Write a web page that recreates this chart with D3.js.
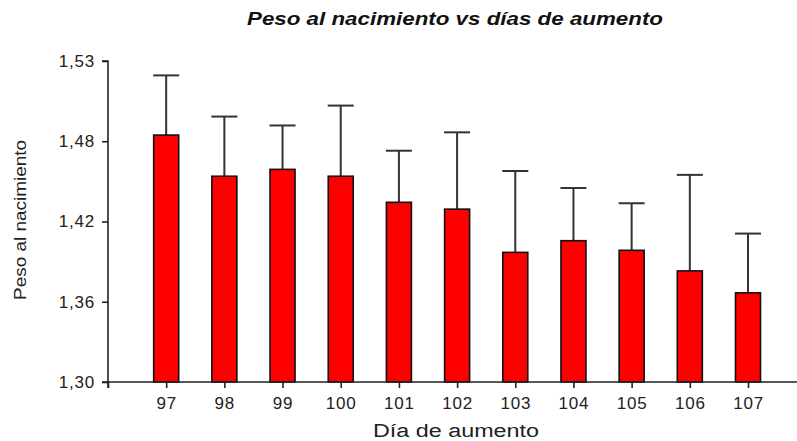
<!DOCTYPE html>
<html lang="es">
<head>
  <meta charset="UTF-8" />
  <title>Peso al nacimiento vs días de aumento</title>
  <script src="https://d3js.org/d3.v7.min.js"></script>
  <style>
    html, body {
      margin: 0;
      padding: 0;
      background: #fff;
      overflow: hidden;
    }
    svg text {
      font-family: "Liberation Sans", Arial, sans-serif;
      fill: #222;
    }
  </style>
</head>
<body>
  <div id="chart"></div>

  <script>
    // days on the x axis
    const days = [97, 98, 99, 100, 101, 102, 103, 104, 105, 106, 107];

    // mean birth weight per day
    const means = [1.480, 1.450, 1.455, 1.450, 1.431, 1.426, 1.3945, 1.403, 1.396, 1.381, 1.365];

    // upper error (standard error)
    const errors = [0.0435, 0.0435, 0.032, 0.0515, 0.0376, 0.056, 0.0593, 0.0384, 0.0343, 0.070, 0.0432];

    // y axis range (ticks are evenly spaced, labels rounded)
    const yMin = 1.30;
    const yMax = 1.534;

    const width = 797;
    const height = 441;

    const svg = d3.select("#chart")
      .append("svg")
      .attr("width", width)
      .attr("height", height);

    const x = d3.scaleLinear()
      .domain([96, 107])
      .range([108, 748]);

    const y = d3.scaleLinear()
      .domain([yMin, yMax])
      .range([382, 61]);

    const barWidth = 25;
    const capWidth = 26;

    // title
    svg.append("text")
      .attr("x", 455)
      .attr("y", 25)
      .attr("text-anchor", "middle")
      .attr("font-size", 18)
      .attr("font-weight", "bold")
      .attr("font-style", "italic")
      .attr("textLength", 416)
      .attr("lengthAdjust", "spacingAndGlyphs")
      .style("fill", "#111")
      .text("Peso al nacimiento vs días de aumento");

    // error bars (drawn first so bars cover the lower part)
    const err = svg.append("g")
      .attr("stroke", "#333")
      .attr("stroke-width", 2);

    err.selectAll("line.stem")
      .data(days)
      .enter()
      .append("line")
      .attr("class", "stem")
      .attr("x1", d => x(d))
      .attr("x2", d => x(d))
      .attr("y1", (d, i) => y(means[i]))
      .attr("y2", (d, i) => y(means[i] + errors[i]));

    err.selectAll("line.cap")
      .data(days)
      .enter()
      .append("line")
      .attr("class", "cap")
      .attr("x1", d => x(d) - capWidth / 2)
      .attr("x2", d => x(d) + capWidth / 2)
      .attr("y1", (d, i) => y(means[i] + errors[i]))
      .attr("y2", (d, i) => y(means[i] + errors[i]));

    // bars
    svg.append("g")
      .selectAll("rect")
      .data(days)
      .enter()
      .append("rect")
      .attr("x", d => x(d) - barWidth / 2)
      .attr("width", barWidth)
      .attr("y", (d, i) => y(means[i]))
      .attr("height", (d, i) => y(yMin) - y(means[i]))
      .attr("fill", "#ff0000")
      .attr("stroke", "#111")
      .attr("stroke-width", 1.6);

    // y axis
    const yTicks = d3.range(5).map(i => yMin + i * (yMax - yMin) / 4);
    const yAxis = svg.append("g")
      .attr("transform", "translate(108,0)")
      .call(d3.axisLeft(y)
        .tickValues(yTicks)
        .tickSize(6)
        .tickPadding(7)
        .tickFormat(d => d.toFixed(2).replace(".", ",")));

    // x axis
    const xAxis = svg.append("g")
      .attr("transform", "translate(0,382)")
      .call(d3.axisBottom(x)
        .tickValues([96].concat(days))
        .tickSize(6)
        .tickPadding(9)
        .tickFormat(d => d === 96 ? "" : d));

    xAxis.select(".domain").attr("d", "M108,6V0H797");
    yAxis.select(".domain").attr("d", "M-6,61H0V382H-6");

    svg.selectAll(".domain, .tick line")
      .attr("stroke", "#222")
      .attr("stroke-width", 1.6);

    svg.selectAll(".tick text")
      .attr("font-size", 17)
      .attr("font-family", "Liberation Sans, Arial, sans-serif")
      .attr("letter-spacing", 0.8)
      .attr("fill", "#222");

    // axis titles
    svg.append("text")
      .attr("x", 456)
      .attr("y", 437)
      .attr("text-anchor", "middle")
      .attr("font-size", 18)
      .attr("textLength", 166)
      .attr("lengthAdjust", "spacingAndGlyphs")
      .text("Día de aumento");

    svg.append("text")
      .attr("transform", "translate(26,220) rotate(-90)")
      .attr("text-anchor", "middle")
      .attr("font-size", 17)
      .attr("textLength", 160)
      .attr("lengthAdjust", "spacingAndGlyphs")
      .text("Peso al nacimiento");
  </script>
</body>
</html>
